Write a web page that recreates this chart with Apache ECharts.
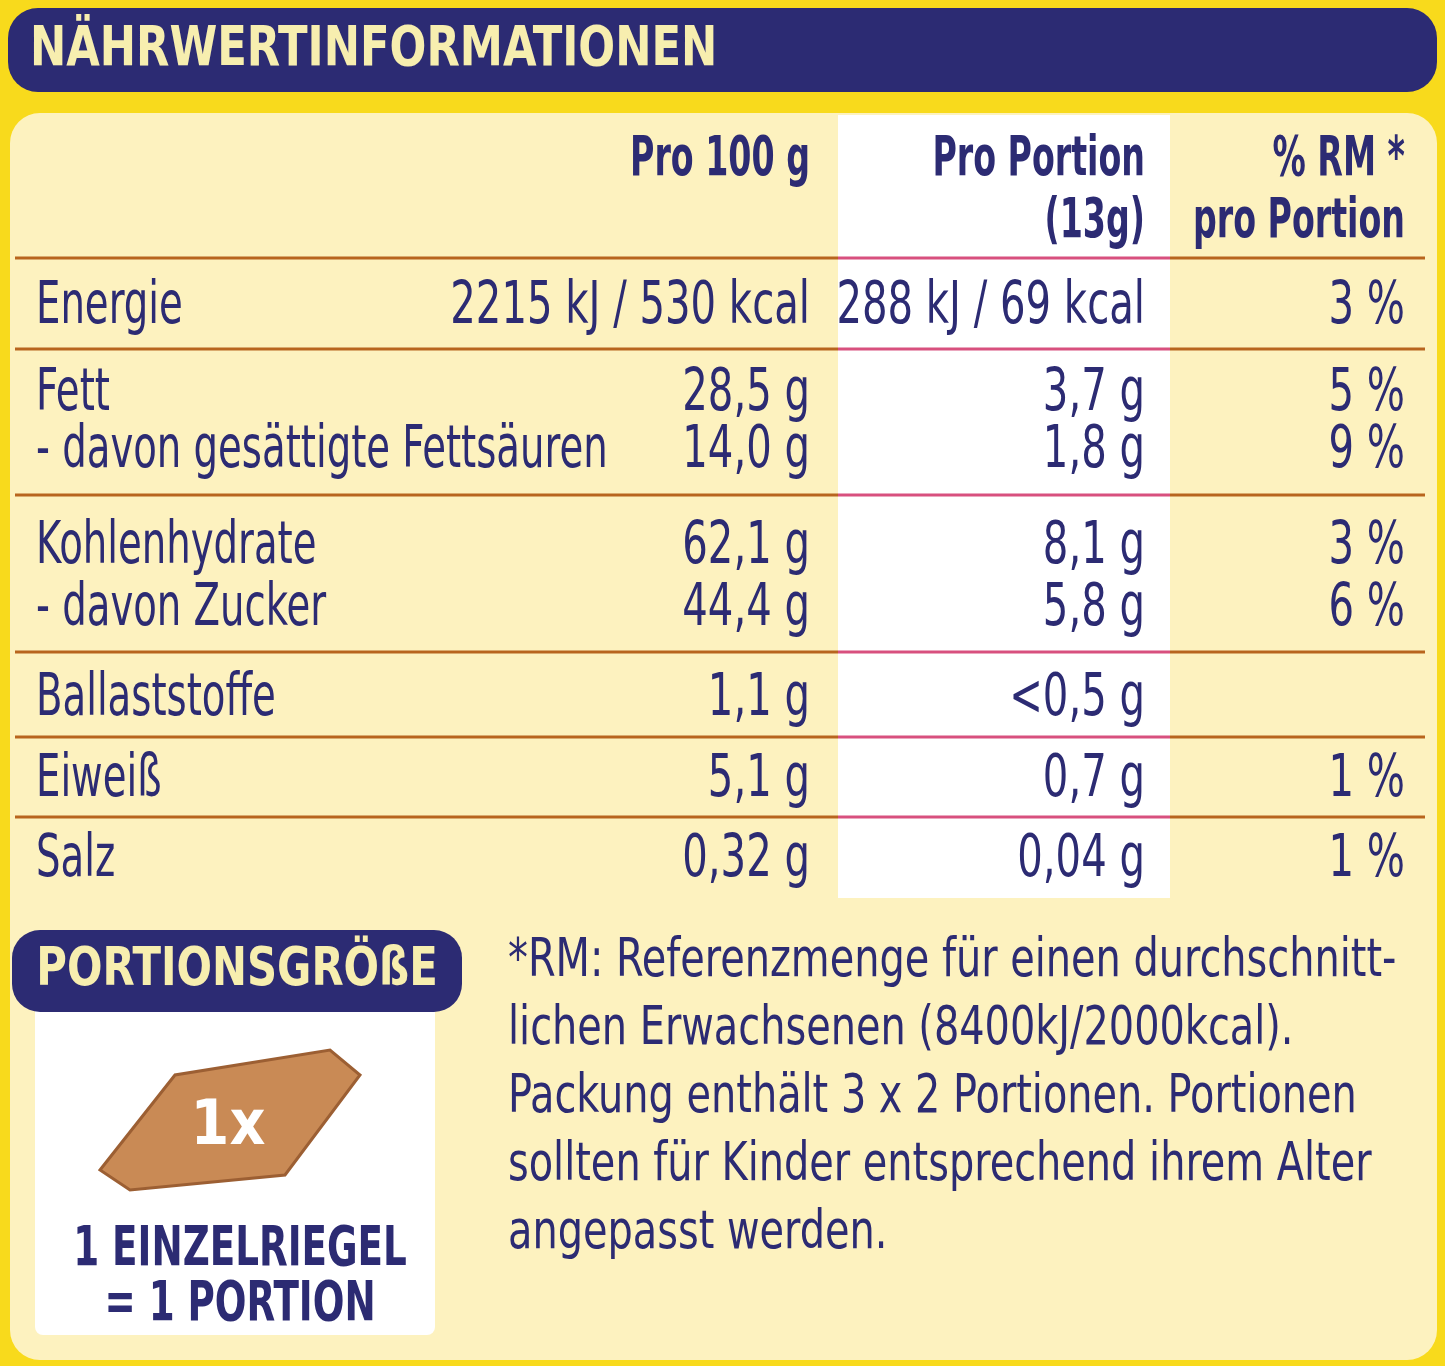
<!DOCTYPE html>
<html><head><meta charset="utf-8">
<script src="https://cdn.jsdelivr.net/npm/echarts@6/dist/echarts.min.js"></script>
<style>html,body{margin:0;padding:0;background:#f8da1c}#main{width:1445px;height:1366px}</style>
</head><body><div id="main"></div>
<script>
// Nährwerttabelle
var rowLabels = ['Energie', 'Fett', '- davon gesättigte Fettsäuren', 'Kohlenhydrate', '- davon Zucker', 'Ballaststoffe', 'Eiweiß', 'Salz'];
var per100 = ['2215 kJ / 530 kcal', '28,5 g', '14,0 g', '62,1 g', '44,4 g', '1,1 g', '5,1 g', '0,32 g'];
var perPortion = ['288 kJ / 69 kcal', '3,7 g', '1,8 g', '8,1 g', '5,8 g', '<0,5 g', '0,7 g', '0,04 g'];
var rmPortion = ['3 %', '5 %', '9 %', '3 %', '6 %', '', '1 %', '1 %'];
var headers = [['Pro 100 g'], ['Pro Portion', '(13g)'], ['% RM *', 'pro Portion']];
var footnote = ['*RM: Referenzmenge für einen durchschnitt-', 'lichen Erwachsenen (8400kJ/2000kcal).', 'Packung enthält 3 x 2 Portionen. Portionen', 'sollten für Kinder entsprechend ihrem Alter', 'angepasst werden.'];

var navy = '#2c2b73', cream = '#fdf2bf';
var font = '"DejaVu Sans Condensed", sans-serif';
var rowY = [308, 395, 452, 548, 610, 700, 781, 861];
var lineY = [258, 349, 495, 652, 737, 817];
var colX = [810, 1145, 1405];

var g = [];
function txt(x, y, s, size, opt) {
  opt = opt || {};
  g.push({type: 'text', x: x, y: y, scaleX: opt.sx || 1, style: {text: s, fill: opt.fill || navy, font: (opt.bold ? 'bold ' : '') + size + 'px ' + font,
    align: opt.align || 'left', verticalAlign: 'middle'}});
}
g.push({type: 'rect', shape: {x: 8, y: 8, width: 1429, height: 84, r: 30}, style: {fill: navy}});
txt(30, 50, 'NÄHRWERTINFORMATIONEN', 56, {bold: true, fill: '#f7eeaf', sx: 0.86});
g.push({type: 'rect', shape: {x: 10, y: 113, width: 1427, height: 1247, r: 30}, style: {fill: cream}});
g.push({type: 'rect', shape: {x: 838, y: 115, width: 332, height: 783}, style: {fill: '#ffffff'}});
lineY.forEach(function (y) {
  g.push({type: 'line', shape: {x1: 15, y1: y, x2: 838, y2: y}, style: {stroke: '#b8651e', lineWidth: 3}});
  g.push({type: 'line', shape: {x1: 838, y1: y, x2: 1170, y2: y}, style: {stroke: '#d8507e', lineWidth: 3}});
  g.push({type: 'line', shape: {x1: 1170, y1: y, x2: 1425, y2: y}, style: {stroke: '#b8651e', lineWidth: 3}});
});
headers.forEach(function (h, i) {
  h.forEach(function (s, j) { txt(colX[i], 160 + j * 62, s, 56, {bold: true, align: 'right', sx: 0.66}); });
});
rowLabels.forEach(function (s, i) {
  txt(36, rowY[i], s, 58, {sx: 0.74});
  txt(colX[0], rowY[i], per100[i], 58, {align: 'right', sx: 0.77});
  txt(colX[1], rowY[i], perPortion[i], 58, {align: 'right', sx: 0.77});
  txt(colX[2], rowY[i], rmPortion[i], 58, {align: 'right', sx: 0.77});
});
// Portionsgröße
g.push({type: 'rect', shape: {x: 35, y: 1000, width: 400, height: 335, r: 8}, style: {fill: '#ffffff'}});
g.push({type: 'rect', shape: {x: 12, y: 930, width: 450, height: 82, r: 28}, style: {fill: navy}});
txt(237, 971, 'PORTIONSGRÖßE', 54, {bold: true, fill: '#f7eeaf', align: 'center', sx: 0.86});
g.push({type: 'polygon', shape: {points: [[100, 1170], [175, 1075], [330, 1050], [360, 1075], [285, 1175], [130, 1190]]},
  style: {fill: '#c98a55', stroke: '#9c5f33', lineWidth: 3}});
txt(228, 1128, '1x', 62, {bold: true, fill: '#ffffff', align: 'center'});
txt(240, 1250, '1 EINZELRIEGEL', 56, {bold: true, align: 'center', sx: 0.74});
txt(240, 1305, '= 1 PORTION', 56, {bold: true, align: 'center', sx: 0.74});
footnote.forEach(function (s, i) { txt(508, 962 + i * 68, s, 54, {sx: 0.82}); });

var chart = echarts.init(document.getElementById('main'));
chart.setOption({animation: false, graphic: g});
</script></body></html>
